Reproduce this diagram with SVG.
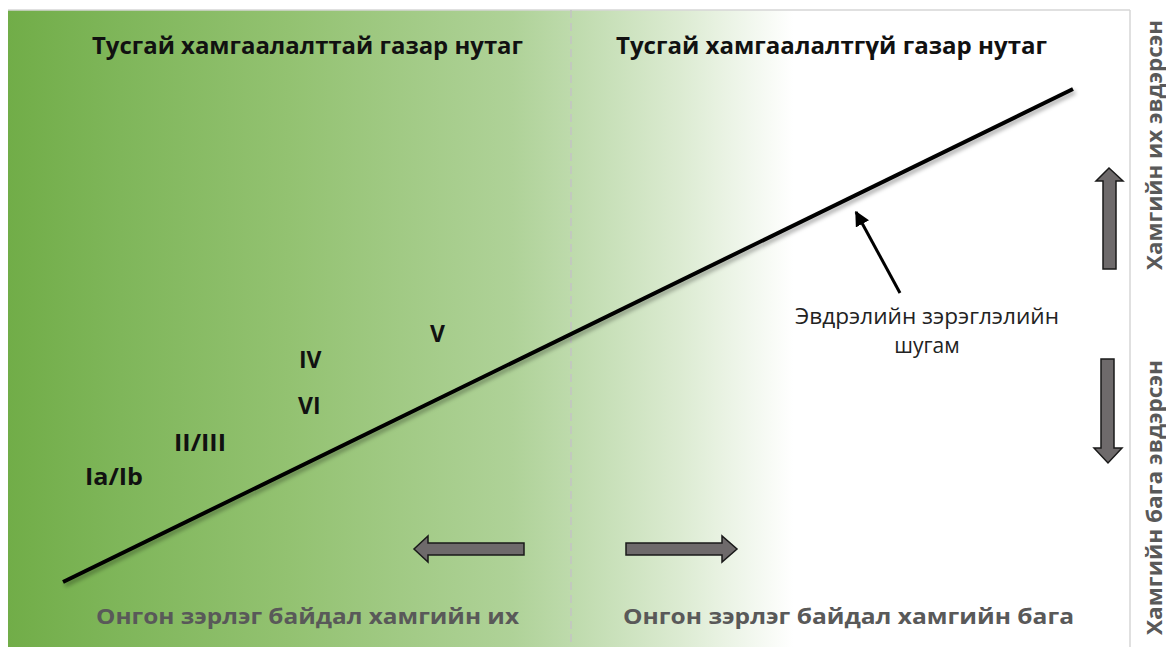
<svg xmlns="http://www.w3.org/2000/svg" width="1166" height="647" viewBox="0 0 1166 647">
  <defs>
    <linearGradient id="bg" x1="8" y1="0" x2="1130" y2="0" gradientUnits="userSpaceOnUse">
      <stop offset="0" stop-color="#71ad48"/>
      <stop offset="0.1" stop-color="#7fb65a"/>
      <stop offset="0.25" stop-color="#93c271"/>
      <stop offset="0.45" stop-color="#afd298"/>
      <stop offset="0.5" stop-color="#bddaab"/>
      <stop offset="0.6" stop-color="#dcebd2"/>
      <stop offset="0.7" stop-color="#ffffff"/>
      <stop offset="1" stop-color="#ffffff"/>
    </linearGradient>
    <filter id="sh" x="-5%" y="-20%" width="110%" height="140%">
      <feDropShadow dx="2" dy="3" stdDeviation="2" flood-color="#000" flood-opacity="0.35"/>
    </filter>
    <marker id="ah" viewBox="0 0 10 10" refX="9" refY="5" markerWidth="5" markerHeight="5" orient="auto" markerUnits="strokeWidth">
      <path d="M0,0 L10,5 L0,10 z" fill="#000"/>
    </marker>
    <style>
      .title{font-family:"Open Sans","Liberation Sans",sans-serif;font-weight:bold;font-size:23px;fill:#111}
      .bottom{font-family:"Open Sans","Liberation Sans",sans-serif;font-weight:bold;font-size:22px;fill:#595959}
      .side{font-family:"Open Sans","Liberation Sans",sans-serif;font-weight:bold;font-size:22px;fill:#595959}
      .cat{font-family:"Open Sans","Liberation Sans",sans-serif;font-weight:bold;font-size:23px;fill:#111}
      .lbl{font-family:"Open Sans","Liberation Sans",sans-serif;font-size:21px;fill:#222}
      .fat{fill:#6e6a6b;stroke:#1a1a1a;stroke-width:1.5}
    </style>
  </defs>

  <rect x="0" y="0" width="1166" height="647" fill="#ffffff"/>
  <g id="panel">
    <rect x="8" y="10" width="1122" height="640" fill="url(#bg)"/>
    <line x1="8" y1="10" x2="1130" y2="10" stroke="#d6d6d6" stroke-width="1.5"/>
    <line x1="1130" y1="10" x2="1130" y2="647" stroke="#d6d6d6" stroke-width="1.5"/>
    <line x1="571" y1="10" x2="571" y2="647" stroke="#c4c4c4" stroke-width="1.5" stroke-dasharray="8,5"/>
  </g>

  <g id="titles">
    <text class="title" x="92" y="54" textLength="431" lengthAdjust="spacingAndGlyphs">Тусгай хамгаалалттай газар нутаг</text>
    <text class="title" x="616" y="54" textLength="431" lengthAdjust="spacingAndGlyphs">Тусгай хамгаалалтгүй газар нутаг</text>
  </g>

  <g id="bottom-labels">
    <text class="bottom" x="96" y="624" textLength="423" lengthAdjust="spacingAndGlyphs">Онгон зэрлэг байдал хамгийн их</text>
    <text class="bottom" x="623" y="624" textLength="451" lengthAdjust="spacingAndGlyphs">Онгон зэрлэг байдал хамгийн бага</text>
  </g>

  <g id="side-labels">
    <text class="side" transform="translate(1162,270) rotate(-90)" x="0" y="0" textLength="250" lengthAdjust="spacingAndGlyphs">Хамгийн их эвдэрсэн</text>
    <text class="side" transform="translate(1162,635) rotate(-90)" x="0" y="0" textLength="275" lengthAdjust="spacingAndGlyphs">Хамгийн бага эвдэрсэн</text>
  </g>

  <g id="categories">
    <text class="cat" x="85" y="485" textLength="58" lengthAdjust="spacingAndGlyphs">Ia/Ib</text>
    <text class="cat" x="174" y="451" textLength="52" lengthAdjust="spacingAndGlyphs">II/III</text>
    <text class="cat" x="299" y="368">IV</text>
    <text class="cat" x="298" y="414">VI</text>
    <text class="cat" x="430" y="342">V</text>
  </g>

  <g id="degradation-line">
    <line x1="63" y1="582" x2="1073" y2="89" stroke="#000" stroke-width="4" filter="url(#sh)"/>
  </g>

  <g id="connectors">
    <line x1="900" y1="293" x2="856" y2="212" stroke="#000" stroke-width="3" marker-end="url(#ah)"/>
  </g>

  <g id="line-label">
    <text class="lbl" x="927" y="324" text-anchor="middle" textLength="264" lengthAdjust="spacingAndGlyphs">Эвдрэлийн зэрэглэлийн</text>
    <text class="lbl" x="927" y="353" text-anchor="middle">шугам</text>
  </g>

  <g id="arrows">
    <path class="fat" d="M524,543 L428,543 L428,536 L414,549 L428,562 L428,555 L524,555 Z"/>
    <path class="fat" d="M626,543 L722,543 L722,536 L737,549 L722,562 L722,555 L626,555 Z"/>
    <path class="fat" d="M1103,269 L1103,181 L1096,181 L1109,168 L1123,181 L1116,181 L1116,269 Z"/>
    <path class="fat" d="M1101,359 L1101,448 L1094,448 L1108,463 L1122,448 L1114,448 L1114,359 Z"/>
  </g>
</svg>
